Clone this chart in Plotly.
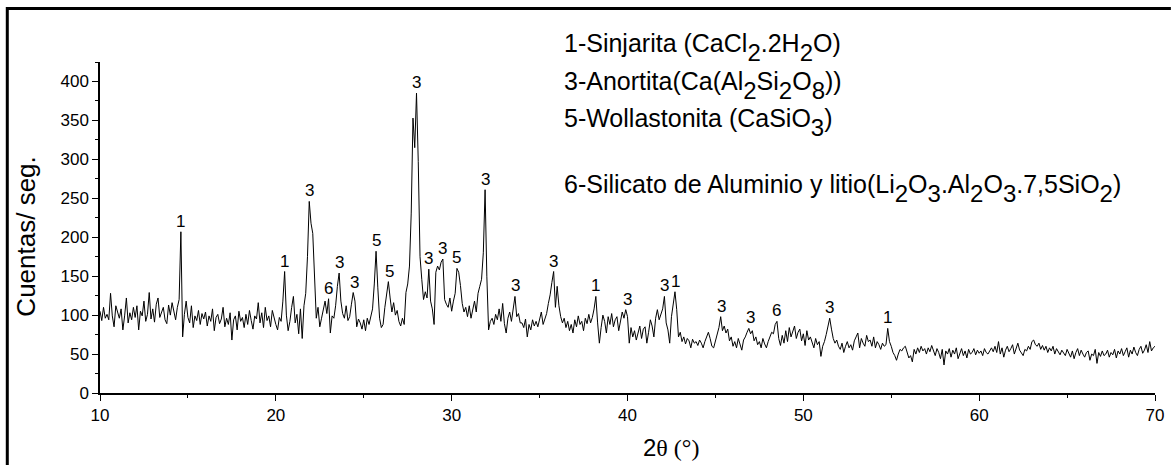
import plotly.graph_objects as go

# 2-theta grid start/step (degrees) and intensities (counts/s)
theta_start = 10.0
theta_step = 0.1
counts = [
    # 10.0 - 10.9
    105, 93, 110, 96, 101, 94, 128, 99, 85, 112,
    # 11
    104, 96, 108, 81, 99, 122, 90, 103, 94, 110,
    # 12
    97, 112, 81, 105, 99, 118, 92, 101, 129, 95,
    # 13
    108, 91, 114, 122, 97, 105, 110, 94, 89, 113,
    # 14
    100, 116, 104, 94, 110, 120, 207, 72, 101, 118,
    # 15
    97, 90, 112, 84, 99, 93, 106, 88, 102, 95,
    # 16
    104, 86, 99, 92, 108, 80, 97, 101, 89, 95,
    # 17
    110, 85, 96, 88, 103, 68, 94, 99, 81, 105,
    # 18
    92, 97, 84, 101, 88, 106, 93, 82, 99, 95,
    # 19
    116, 90, 103, 84, 110, 93, 99, 85, 106, 95,
    # 20
    88, 81, 97, 92, 118, 156, 100, 80, 92, 110,
    # 21
    124, 90, 101, 76, 108, 70, 112, 128, 175, 246,
    # 22
    218, 205, 158, 96, 110, 85, 96, 108, 118, 102,
    # 23
    121, 77, 99, 96, 112, 137, 154, 118, 102, 96,
    # 24
    112, 93, 98, 114, 129, 118, 85, 95, 90, 82,
    # 25
    94, 80, 96, 88, 100, 108, 140, 182, 135, 96,
    # 26
    84, 88, 110, 130, 143, 122, 104, 116, 100, 106,
    # 27
    92, 86, 96, 88, 129, 140, 163, 231, 353, 315,
    # 28
    385, 297, 175, 146, 120, 130, 122, 159, 118, 108,
    # 29
    88, 155, 163, 158, 168, 172, 120, 114, 110, 122,
    # 30
    105, 118, 128, 160, 155, 138, 115, 104, 110, 98,
    # 31
    112, 96, 107, 118, 104, 128, 137, 146, 180, 261,
    # 32
    150, 81, 92, 96, 88, 101, 94, 108, 92, 115,
    # 33
    89, 77, 96, 104, 92, 110, 124, 98, 102, 90,
    # 34
    90, 84, 95, 72, 88, 81, 94, 86, 92, 85,
    # 35
    96, 104, 88, 94, 102, 115, 126, 142, 156, 110,
    # 36
    137, 112, 98, 90, 96, 84, 92, 80, 88, 77,
    # 37
    94, 85, 99, 88, 92, 80, 96, 89, 101, 90,
    # 38
    97, 108, 124, 90, 64, 84, 100, 92, 77, 98,
    # 39
    88, 102, 85, 94, 98, 80, 92, 104, 96, 107,
    # 40
    98, 64, 84, 72, 80, 68, 77, 86, 70, 82,
    # 41
    85, 64, 78, 94, 86, 72, 96, 107, 94, 101,
    # 42
    108, 124, 90, 81, 64, 98, 112, 130, 107, 72,
    # 43
    78, 66, 72, 63, 70, 67, 58, 69, 64, 66,
    # 44
    61, 68, 64, 58, 66, 72, 78, 70, 60, 58,
    # 45
    66, 74, 84, 98, 80, 86, 77, 82, 67, 72,
    # 46
    60, 66, 58, 70, 62, 55, 68, 72, 78, 83,
    # 47
    76, 80, 67, 72, 62, 66, 58, 70, 63, 58,
    # 48
    66, 72, 78, 76, 88, 92, 70, 61, 74, 64,
    # 49
    80, 66, 84, 72, 80, 86, 70, 78, 82, 67,
    # 50
    76, 61, 80, 68, 72, 64, 58, 70, 62, 66,
    # 51
    47, 60, 66, 75, 88, 96, 82, 70, 64, 68,
    # 52
    60, 56, 64, 52, 60, 66, 58, 62, 55, 67,
    # 53
    72, 77, 58, 70, 64, 60, 74, 66, 68, 60,
    # 54
    72, 58, 66, 62, 56, 64, 60, 62, 83, 66,
    # 55
    60, 52, 48, 42, 50, 56, 54, 58, 60, 52,
    # 56
    45, 48, 40, 56, 50, 58, 52, 60, 54, 57,
    # 57
    50, 58, 53, 61, 55, 48, 57, 52, 44, 56,
    # 58
    36, 54, 50, 57, 46, 55, 50, 58, 44, 52,
    # 59
    57, 48, 54, 45, 56, 50, 52, 57, 49, 55,
    # 60
    51, 54, 48, 57, 52, 50, 55, 58, 53, 60,
    # 61
    52, 66, 50, 58, 46, 55, 60, 53, 57, 62,
    # 62
    50, 58, 64, 55, 52, 48, 56, 54, 60, 56,
    # 63
    66, 68, 62, 60, 64, 56, 61, 55, 60, 52,
    # 64
    58, 54, 60, 50, 57, 53, 49, 55, 52, 48,
    # 65
    56, 50, 46, 54, 44, 52, 57, 48, 55, 50,
    # 66
    46, 52, 54, 42, 50, 48, 56, 38, 52, 47,
    # 67
    54, 48, 50, 55, 46, 52, 49, 56, 45, 54,
    # 68
    50, 57, 48, 53, 58, 46, 55, 50, 59, 52,
    # 69
    48, 56, 60, 51, 55, 62, 52, 66, 54, 58,
    # 70
    60,
]
two_theta = [round(theta_start + i * theta_step, 2) for i in range(len(counts))]

# peak labels: position, peak height, phase number
peak_x = [14.6, 20.5, 21.9, 23.0, 23.6, 24.45, 25.7, 26.45, 28.0, 28.7, 29.5, 30.3,
          31.9, 33.65, 35.8, 38.2, 40.0, 42.1, 42.75, 45.35, 47.0, 48.5, 51.5, 54.8]
peak_y = [207, 156, 246, 121, 154, 129, 182, 143, 385, 159, 172, 160,
          261, 124, 156, 124, 107, 124, 130, 98, 83, 92, 96, 83]
peak_lbl = ["1", "1", "3", "6", "3", "3", "5", "5", "3", "3", "3", "5",
            "3", "3", "3", "1", "3", "3", "1", "3", "3", "6", "3", "1"]

SUB = "<sub><sub><span style='font-size:24px'>{}</span></sub></sub>"
legend_lines = [
    "1-Sinjarita (CaCl" + SUB.format("2") + ".2H" + SUB.format("2") + "O)",
    "3-Anortita(Ca(Al" + SUB.format("2") + "Si" + SUB.format("2") + "O" + SUB.format("8") + "))",
    "5-Wollastonita (CaSiO" + SUB.format("3") + ")",
    "6-Silicato de Aluminio y litio(Li" + SUB.format("2") + "O" + SUB.format("3") + ".Al"
    + SUB.format("2") + "O" + SUB.format("3") + ".7,5SiO" + SUB.format("2") + ")",
]
legend_ypix = [47, 85, 122, 188]

W, H = 1176, 465
ML, MR, MT, MB = 100, 12, 62, 72
PW, PH = W - ML - MR, H - MT - MB


def px(xp):
    return (xp - ML) / PW


def py(yp):
    return (H - MB - yp) / PH


FONT = "Liberation Sans, Arial, sans-serif"

fig = go.Figure()
fig.add_trace(go.Scatter(x=two_theta, y=counts, mode="lines",
                         line=dict(color="black", width=1), showlegend=False,
                         hoverinfo="skip"))

annotations = []
for xv, yv, t in zip(peak_x, peak_y, peak_lbl):
    annotations.append(dict(x=xv, y=yv, xref="x", yref="y", text=t, showarrow=False,
                            yanchor="bottom", xanchor="center", yshift=-1,
                            font=dict(family=FONT, size=17, color="black")))

for t, yp in zip(legend_lines, legend_ypix):
    annotations.append(dict(x=px(566), y=py(yp), xref="paper", yref="paper", text=t,
                            showarrow=False, xanchor="left", yanchor="middle",
                            font=dict(family=FONT, size=25, color="black")))

annotations.append(dict(x=px(25), y=py(237), xref="paper", yref="paper",
                        text="Cuentas/ seg.", textangle=-90, showarrow=False,
                        xanchor="center", yanchor="middle",
                        font=dict(family=FONT, size=26, color="black")))
annotations.append(dict(x=px(676), y=py(447), xref="paper", yref="paper",
                        text="2<span style='font-family:Liberation Serif, Times New Roman, serif'>θ (°)</span>",
                        showarrow=False, xanchor="center", yanchor="middle",
                        font=dict(family=FONT, size=24, color="black")))

shapes = [
    dict(type="line", xref="paper", yref="paper", x0=px(6.5), x1=px(1180),
         y0=py(8.5), y1=py(8.5), line=dict(color="black", width=3)),
    dict(type="line", xref="paper", yref="paper", x0=px(6.5), x1=px(6.5),
         y0=py(7), y1=py(470), line=dict(color="black", width=3)),
]

fig.update_layout(
    width=W, height=H,
    margin=dict(l=ML, r=MR, t=MT, b=MB),
    paper_bgcolor="white", plot_bgcolor="white",
    font=dict(family=FONT, size=17, color="black"),
    annotations=annotations, shapes=shapes,
    xaxis=dict(range=[10, 70], tickmode="array", tickvals=[10, 20, 30, 40, 50, 60, 70],
               ticks="outside", ticklen=6, tickwidth=1.2, tickcolor="black",
               minor=dict(tickvals=[15, 25, 35, 45, 55, 65], ticks="outside", ticklen=3,
                          tickwidth=1.2, tickcolor="black"),
               showline=True, linecolor="black", linewidth=1.5, showgrid=False,
               zeroline=False, tickfont=dict(size=17)),
    yaxis=dict(range=[0, 425], tickmode="array",
               tickvals=[0, 50, 100, 150, 200, 250, 300, 350, 400],
               ticks="outside", ticklen=6, tickwidth=1.2, tickcolor="black",
               minor=dict(tickvals=[25, 75, 125, 175, 225, 275, 325, 375, 425], ticks="outside",
                          ticklen=3, tickwidth=1.2, tickcolor="black"),
               showline=True, linecolor="black", linewidth=1.5, showgrid=False,
               zeroline=False, tickfont=dict(size=17)),
)

fig.write_html("out.html", config={"displayModeBar": False},
               post_script="document.body.style.margin='0';")
